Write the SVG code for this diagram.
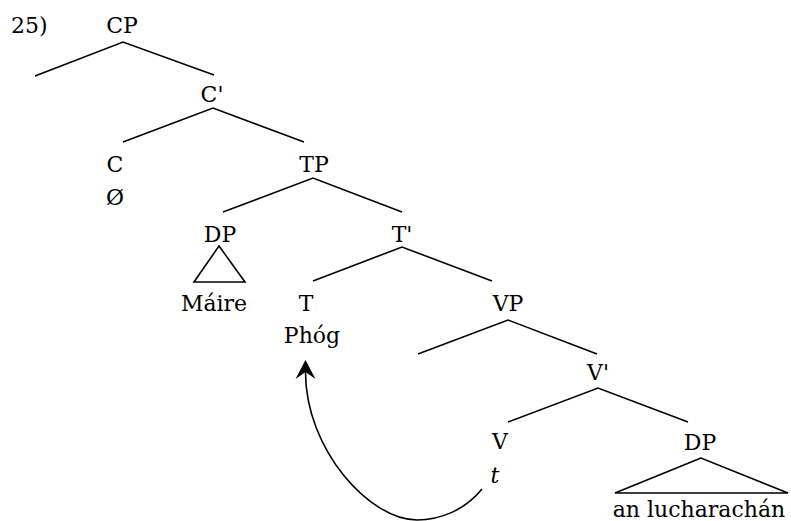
<svg xmlns="http://www.w3.org/2000/svg" width="791" height="521" viewBox="0 0 791 521">
<style>
text{font-family:"DejaVu Serif","Liberation Serif",serif;font-size:22px;fill:#000;text-anchor:middle}
.e{stroke:#000;stroke-width:1.6;fill:none}
</style>
<defs>
<marker id="ah" markerUnits="userSpaceOnUse" refX="0" refY="0" orient="auto" overflow="visible">
<path d="M12 0 L-7 -10 L0 0 L-7 10 Z" fill="#000"/>
</marker>
</defs>
<rect width="791" height="521" fill="#fff"/>
<text x="11" y="33" style="text-anchor:start">25)</text>
<g id="CP"><text x="122" y="33">CP</text></g>
<g id="Cbar"><text x="212" y="102">C'</text></g>
<g id="C"><text x="115" y="172">C</text><text x="115" y="205">Ø</text></g>
<g id="TP"><text x="314" y="172">TP</text></g>
<g id="DP1"><text x="220" y="242">DP</text><polygon class="e" points="219,246 194,282 245,282"/><text x="214" y="311">Máire</text></g>
<g id="Tbar"><text x="402" y="242">T'</text></g>
<g id="T"><text x="306" y="311">T</text><text x="312" y="343">Phóg</text></g>
<g id="VP"><text x="508" y="311">VP</text></g>
<g id="Vbar"><text x="598" y="380">V'</text></g>
<g id="V"><text x="500" y="449">V</text><text x="495" y="483" style="font-style:italic">t</text></g>
<g id="DP2"><text x="700" y="450">DP</text><polygon class="e" points="701,458 615,493 788,493"/><text x="699" y="517">an lucharachán</text></g>
<g id="connectors">
<path class="e" d="M35 76 L123 42 L214 75"/>
<path class="e" d="M123 142 L213 108 L304 142"/>
<path class="e" d="M223 212 L313 178 L402 212"/>
<path class="e" d="M313 281 L402 247 L492 281"/>
<path class="e" d="M418 354 L508 320 L597 354"/>
<path class="e" d="M508 422 L598 388 L688 422"/>
<path class="e" d="M482 489 C465 510 440 520 417 520 C370 520 305.5 450 305.5 372" marker-end="url(#ah)"/>
</g>
</svg>
